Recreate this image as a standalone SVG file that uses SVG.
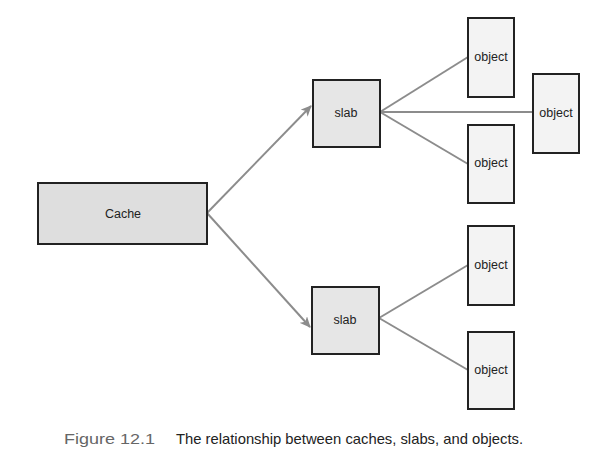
<svg xmlns="http://www.w3.org/2000/svg" width="607" height="459" viewBox="0 0 607 459">
<style>
.box{stroke:#222;stroke-width:2}
.cache{fill:#dedede}
.slab{fill:#e6e6e6}
.obj{fill:#f3f3f3}
.lbl{font-family:"Liberation Sans",Arial,sans-serif;font-size:12.5px;fill:#222;text-anchor:middle}
.conn{stroke:#8c8c8c;stroke-width:2;fill:none}
.cap{font-family:"Liberation Sans",Arial,sans-serif;font-size:14.5px}
</style>
<defs>
<marker id="arr" markerWidth="12" markerHeight="10" refX="10" refY="5" orient="auto" markerUnits="userSpaceOnUse">
<path d="M0,0 L11,5 L0,10 L3,5 Z" fill="#8c8c8c"/>
</marker>
</defs>
<rect width="607" height="459" fill="#fff"/>
<g id="connectors">
<line class="conn" x1="207" y1="213" x2="311" y2="106" marker-end="url(#arr)"/>
<line class="conn" x1="207" y1="213" x2="310" y2="327" marker-end="url(#arr)"/>
<line class="conn" x1="380" y1="112" x2="468" y2="57"/>
<line class="conn" x1="380" y1="112" x2="533" y2="112"/>
<line class="conn" x1="380" y1="112" x2="468" y2="164"/>
<line class="conn" x1="379" y1="318" x2="468" y2="265"/>
<line class="conn" x1="379" y1="318" x2="468" y2="370"/>
</g>
<g id="cache">
<rect class="box cache" x="38" y="183" width="169" height="61"/>
<text class="lbl" x="123" y="218">Cache</text>
</g>
<g id="slab1">
<rect class="box slab" x="313" y="80" width="67" height="67"/>
<text class="lbl" x="346" y="117">slab</text>
</g>
<g id="slab2">
<rect class="box slab" x="312" y="287" width="67" height="67"/>
<text class="lbl" x="345" y="324">slab</text>
</g>
<g id="obj1">
<rect class="box obj" x="468" y="18" width="46" height="79"/>
<text class="lbl" x="491" y="61">object</text>
</g>
<g id="obj2">
<rect class="box obj" x="533" y="74" width="46" height="79"/>
<text class="lbl" x="556" y="117">object</text>
</g>
<g id="obj3">
<rect class="box obj" x="468" y="125" width="46" height="78"/>
<text class="lbl" x="491" y="167">object</text>
</g>
<g id="obj4">
<rect class="box obj" x="468" y="226" width="46" height="79"/>
<text class="lbl" x="491" y="269">object</text>
</g>
<g id="obj5">
<rect class="box obj" x="468" y="332" width="46" height="77"/>
<text class="lbl" x="491" y="374">object</text>
</g>
<g id="caption">
<text class="cap" x="64" y="444" fill="#666" textLength="91" lengthAdjust="spacingAndGlyphs">Figure 12.1</text>
<text class="cap" x="176" y="444" fill="#222" textLength="347" lengthAdjust="spacingAndGlyphs">The relationship between caches, slabs, and objects.</text>
</g>
</svg>
